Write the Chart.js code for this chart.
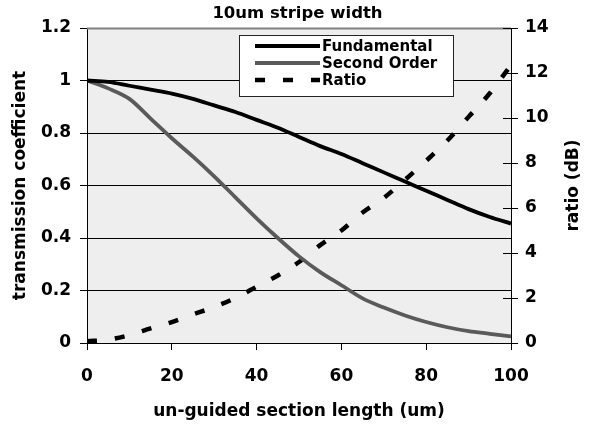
<!DOCTYPE html>
<html>
<head>
<meta charset="utf-8">
<script src="https://cdn.jsdelivr.net/npm/chart.js@4.4.1/dist/chart.umd.min.js"></script>
<style>
  html, body { margin: 0; padding: 0; background: #fff; }
  canvas { display: block; }
</style>
</head>
<body>
<canvas id="chart" width="595" height="425"></canvas>
<script>
// section length (um)
const lengths = [0, 5, 10, 15, 20, 25, 30, 35, 40, 45, 50, 55, 60, 65, 70, 75, 80, 85, 90, 95, 100];
// transmission coefficients, left axis
const fundamental = [1.0, 0.995, 0.98, 0.965, 0.95, 0.93, 0.905, 0.88, 0.85, 0.82, 0.785,
  0.75, 0.72, 0.685, 0.65, 0.615, 0.58, 0.545, 0.51, 0.48, 0.455];
const secondOrder = [1.0, 0.97, 0.93, 0.855, 0.78, 0.71, 0.635, 0.555, 0.475, 0.4, 0.33,
  0.27, 0.22, 0.17, 0.135, 0.105, 0.08, 0.06, 0.045, 0.035, 0.025];
// ratio in dB, right axis
const ratio = [0.08, 0.15, 0.35, 0.65, 0.93, 1.27, 1.6, 2.0, 2.5, 3.0, 3.6,
  4.35, 5.0, 5.8, 6.45, 7.25, 8.1, 9.0, 10.05, 11.1, 12.35];

const FONT = 'DejaVu Sans';
Chart.defaults.font.family = FONT;
Chart.defaults.color = '#000';

const pts = (ys) => lengths.map((x, i) => ({ x, y: ys[i] }));

// grey plot area + top border
const plotArea = {
  id: 'plotArea',
  beforeDraw(chart) {
    const { ctx, chartArea: a } = chart;
    ctx.save();
    ctx.fillStyle = '#eeeeee';
    ctx.fillRect(a.left, a.top, a.right - a.left, a.bottom - a.top);
    ctx.restore();
  },
  beforeDatasetsDraw(chart) {
    const { ctx, chartArea: a } = chart;
    ctx.save();
    ctx.strokeStyle = '#808080';
    ctx.lineWidth = 2;
    ctx.beginPath();
    ctx.moveTo(a.left, a.top + 0.5);
    ctx.lineTo(a.right, a.top + 0.5);
    ctx.stroke();
    // right axis ticks cross the axis line
    const s = chart.scales.y1;
    ctx.strokeStyle = '#000';
    ctx.lineWidth = 1;
    s.ticks.forEach((t) => {
      const y = Math.round(s.getPixelForValue(t.value)) + 0.5;
      ctx.beginPath();
      ctx.moveTo(a.right - 8, y);
      ctx.lineTo(a.right, y);
      ctx.stroke();
    });
    ctx.restore();
  },
  afterDraw(chart) {
    const { ctx, chartArea: a } = chart;
    ctx.save();
    // right axis title, reads bottom to top
    ctx.font = `bold 17px "${FONT}"`;
    ctx.fillStyle = '#000';
    ctx.textAlign = 'center';
    ctx.textBaseline = 'middle';
    ctx.translate(574, (a.top + a.bottom) / 2);
    ctx.rotate(-Math.PI / 2);
    ctx.fillText('ratio (dB)', 0, 0);
    ctx.restore();
  },
};

// boxed legend inside the plot, as in the original
const boxLegend = {
  id: 'boxLegend',
  afterDraw(chart) {
    const { ctx } = chart;
    const box = { x: 239.5, y: 35.5, w: 214, h: 61 };
    ctx.save();
    ctx.fillStyle = '#fff';
    ctx.fillRect(box.x, box.y, box.w, box.h);
    ctx.strokeStyle = '#222';
    ctx.lineWidth = 1;
    ctx.strokeRect(box.x, box.y, box.w, box.h);
    ctx.font = `bold 15px "${FONT}"`;
    ctx.textBaseline = 'middle';
    ctx.fillStyle = '#000';
    chart.data.datasets.forEach((ds, i) => {
      const y = 46 + i * 17;
      ctx.strokeStyle = ds.borderColor;
      ctx.lineWidth = ds.borderWidth;
      ctx.setLineDash(ds.borderDash || []);
      ctx.beginPath();
      ctx.moveTo(255, y);
      ctx.lineTo(320, y);
      ctx.stroke();
      ctx.setLineDash([]);
      ctx.fillText(ds.label, 322, y + 1);
    });
    ctx.restore();
  },
};

new Chart(document.getElementById('chart'), {
  type: 'line',
  data: {
    datasets: [
      {
        label: 'Fundamental',
        data: pts(fundamental),
        yAxisID: 'y',
        borderColor: '#000',
        borderWidth: 3.8,
        pointRadius: 0,
        cubicInterpolationMode: 'monotone',
      },
      {
        label: 'Second Order',
        data: pts(secondOrder),
        yAxisID: 'y',
        borderColor: '#5a5a5a',
        borderWidth: 3.8,
        pointRadius: 0,
        cubicInterpolationMode: 'monotone',
      },
      {
        label: 'Ratio',
        data: pts(ratio),
        yAxisID: 'y1',
        borderColor: '#000',
        borderWidth: 4.5,
        borderDash: [10, 18],
        pointRadius: 0,
        cubicInterpolationMode: 'monotone',
      },
    ],
  },
  options: {
    responsive: false,
    animation: false,
    devicePixelRatio: 1,
    layout: { padding: 0 },
    plugins: {
      legend: { display: false },
      tooltip: { enabled: false },
      title: {
        display: true,
        text: '10um stripe width',
        font: { size: 16.5, weight: 'bold' },
        color: '#000',
        padding: { top: 4, bottom: 4.2 },
      },
    },
    scales: {
      x: {
        type: 'linear',
        min: 0,
        max: 100,
        ticks: { stepSize: 20, font: { size: 17, weight: 'bold' }, padding: 16, maxRotation: 0 },
        grid: { drawOnChartArea: false, color: '#000', tickLength: 7 },
        border: { color: '#000', width: 1 },
        title: {
          display: true,
          text: 'un-guided section length (um)',
          font: { size: 17, weight: 'bold' },
          padding: { top: 0, bottom: 3 },
        },
        afterFit(s) { s.height = 82; },
      },
      y: {
        position: 'left',
        min: 0,
        max: 1.2,
        ticks: {
          stepSize: 0.2,
          font: { size: 17, weight: 'bold' },
          padding: 9,
          callback: (v) => String(+v.toFixed(1)),
        },
        grid: { color: '#000', lineWidth: 1, tickLength: 7 },
        border: { color: '#000', width: 1 },
        title: {
          display: true,
          text: 'transmission coefficient',
          font: { size: 17, weight: 'bold' },
          padding: { top: 10, bottom: 0 },
        },
        afterFit(s) { s.width = 87; },
      },
      y1: {
        position: 'right',
        min: 0,
        max: 14,
        ticks: { stepSize: 2, font: { size: 17, weight: 'bold' }, padding: 7 },
        grid: { drawOnChartArea: false, color: '#000', tickLength: 7 },
        border: { color: '#000', width: 1 },
        afterFit(s) { s.width = 84; },
      },
    },
  },
  plugins: [plotArea, boxLegend],
});
</script>
</body>
</html>
